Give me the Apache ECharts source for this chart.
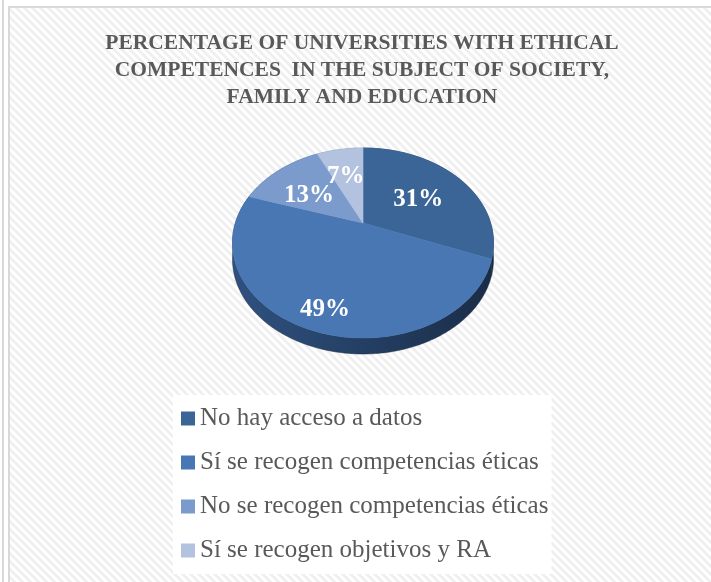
<!DOCTYPE html>
<html>
<head>
<meta charset="utf-8">
<script src="https://cdn.jsdelivr.net/npm/echarts@6/dist/echarts.min.js"></script>
<style>
html,body{margin:0;padding:0;background:#fff;overflow:hidden;}
#frame{position:absolute;left:0;top:0;width:711px;height:582px;overflow:hidden;}
#pageline{position:absolute;left:2px;top:0;width:2px;height:582px;background:#d9d9d9;}
#bg{position:absolute;left:8px;top:6px;width:720px;height:600px;border-left:2px solid #d9d9d9;border-top:2px solid #d9d9d9;
  background:repeating-linear-gradient(45deg,#ffffff 0px,#ffffff 2.83px,#f0f0f0 2.83px,#f0f0f0 5.66px);}
#chart{position:absolute;left:0;top:0;width:711px;height:582px;}
</style>
</head>
<body>
<div id="frame">
  <div id="pageline"></div>
  <div id="bg"></div>
  <div id="chart"></div>
</div>
<script>
// ---- data ----
const categories = [
  'No hay acceso a datos',
  'Sí se recogen competencias éticas',
  'No se recogen competencias éticas',
  'Sí se recogen objetivos y RA'
];
const values = [31, 49, 13, 7];
const titleText = 'PERCENTAGE OF UNIVERSITIES WITH ETHICAL\nCOMPETENCES  IN THE SUBJECT OF SOCIETY,\nFAMILY AND EDUCATION';

// ---- styles ----
const colors = ['#3c6597', '#4877b3', '#7c9bcd', '#b3c2df'];
const sideColors = [
  ['#1d314d', '#1a2c45'],
  ['#2f5180', '#1a2d47'],
  ['#4a6a99', '#3b5a88'],
  ['#7f90b0', '#6a7ca0']
];
const labelR = [0.58, 0.8, 0.6, 0.62];
const labelOffset = [[-2, 4], [3, 5], [-1, 6], [-2, 2]];
// perspective ellipse layout (apex, vertical/horizontal half-scales, perspective factor, depth)
const PIE = { cx: 363, cy: 223, A: 90.8, B: 127.6, k: 0.2105, depth: 16 };

function proj(theta, rf, dy) {
  const t = theta * Math.PI / 180;
  const s = Math.sin(t) * rf, c = Math.cos(t) * rf;
  const d = 1 + PIE.k * c;
  return [PIE.cx + PIE.B * s / d, PIE.cy - PIE.A * c / d + (dy || 0)];
}

const total = values.reduce((a, b) => a + b, 0);

function makeRender(i) {
  return function (params, api) {
    const v = api.value(0);
    let start = 0;
    for (let j = 0; j < i; j++) start += values[j];
    const a0 = start / total * 360;
    const a1 = (start + v) / total * 360;
    const n = Math.max(4, Math.ceil((a1 - a0) * 1.5));
    const arcTop = [], arcBot = [];
    for (let s = 0; s <= n; s++) {
      const th = a0 + (a1 - a0) * s / n;
      arcTop.push(proj(th, 1, 0));
      arcBot.push(proj(th, 1, PIE.depth));
    }
    const topPts = [[PIE.cx, PIE.cy]].concat(arcTop);
    const sidePts = arcTop.concat(arcBot.slice().reverse());
    const lp = proj((a0 + a1) / 2, labelR[i], 0);
    return {
      type: 'group',
      children: [
        {
          type: 'polygon', z2: 0,
          shape: { points: sidePts },
          style: {
            fill: new echarts.graphic.LinearGradient(0, 0, 1, 0, [
              { offset: 0, color: sideColors[i][0] },
              { offset: 1, color: sideColors[i][1] }
            ]),
            stroke: sideColors[i][1], lineWidth: 0.5
          }
        },
        {
          type: 'polygon', z2: 10,
          shape: { points: topPts },
          style: { fill: colors[i], stroke: colors[i], lineWidth: 0.6 }
        },
        {
          type: 'text', z2: 20,
          x: lp[0] + labelOffset[i][0], y: lp[1] + labelOffset[i][1],
          style: {
            text: Math.round(v / total * 100) + '%',
            fill: '#ffffff',
            font: 'bold 25px "Liberation Serif", serif',
            align: 'center', verticalAlign: 'middle'
          }
        }
      ]
    };
  };
}

const chart = echarts.init(document.getElementById('chart'), null, { renderer: 'canvas' });
const series = categories.map((name, i) => ({
  type: 'custom',
  name: name,
  coordinateSystem: 'none',
  itemStyle: { color: colors[i] },
  renderItem: makeRender(i),
  data: [[values[i]]],
  silent: true
}));

chart.setOption({
  backgroundColor: 'transparent',
  animation: false,
  title: {
    text: titleText,
    left: 362,
    top: 30,
    textAlign: 'center',
    padding: 0,
    textStyle: {
      fontFamily: '"Liberation Serif", serif',
      fontWeight: 'bold',
      fontSize: 21.5,
      lineHeight: 27,
      color: '#595959'
    }
  },
  legend: {
    orient: 'vertical',
    left: 173,
    top: 395,
    padding: [11, 3, 11, 8],
    backgroundColor: '#ffffff',
    itemWidth: 14,
    itemHeight: 14,
    itemGap: 19,
    icon: 'rect',
    selectedMode: false,
    data: categories,
    textStyle: {
      fontFamily: '"Liberation Serif", serif',
      fontSize: 25,
      lineHeight: 25,
      color: '#595959'
    }
  },
  series: series
});
</script>
</body>
</html>
